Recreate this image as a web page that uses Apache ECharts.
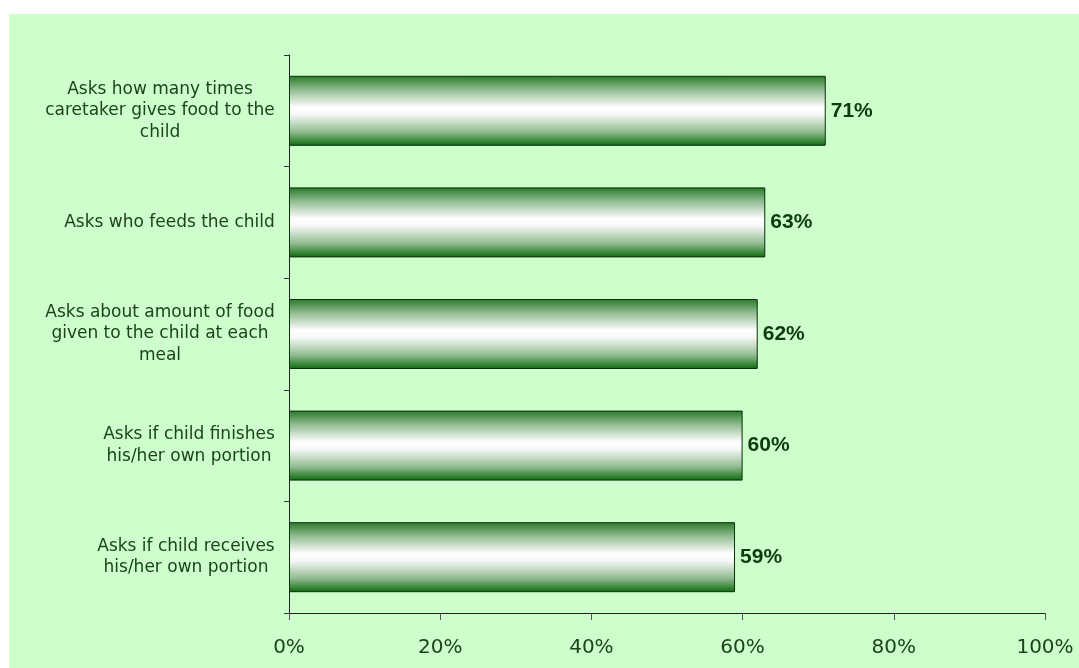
<!DOCTYPE html>
<html>
<head>
<meta charset="utf-8">
<style>
  html, body { margin: 0; padding: 0; background: #ffffff; }
  #chart { width: 1079px; height: 668px; }
</style>
<script src="https://cdn.jsdelivr.net/npm/echarts@6/dist/echarts.min.js"></script>
</head>
<body>
<div id="chart"></div>
<script>
// Questions asked during counselling, top to bottom
const categories = [
  'Asks how many times\ncaretaker gives food to the\nchild',
  'Asks who feeds the child',
  'Asks about amount of food\ngiven to the child at each\nmeal',
  'Asks if child finishes\nhis/her own portion',
  'Asks if child receives\nhis/her own portion'
];
// Share of providers (%)
const values = [71, 63, 62, 60, 59];
const xTicks = [0, 20, 40, 60, 80, 100];

const catSize = 17;
const catFamily = 'DejaVu Sans';
const catColor = '#1e421e';

// Each label block is right-aligned against the axis; lines are centred inside it.
const measure = document.createElement('canvas').getContext('2d');
measure.font = catSize + 'px "' + catFamily + '"';
const rich = {};
categories.forEach((c, i) => {
  const w = Math.max(...c.split('\n').map(l => measure.measureText(l).width));
  rich['c' + i] = {
    width: Math.ceil(w),
    align: 'center',
    fontSize: catSize,
    fontFamily: catFamily,
    color: catColor,
    lineHeight: 21.5
  };
});

const chart = echarts.init(document.getElementById('chart'), null, { renderer: 'canvas' });

chart.setOption({
  backgroundColor: '#ffffff',
  animation: false,
  graphic: [{
    type: 'rect',
    z: -10,
    silent: true,
    shape: { x: 9, y: 14, width: 1070, height: 654 },
    style: { fill: '#ccffcc' }
  }],
  grid: { left: 289, top: 55, right: 34, bottom: 55, containLabel: false },
  xAxis: {
    type: 'value',
    min: 0,
    max: 100,
    interval: 20,
    axisLine: { show: true, lineStyle: { color: '#222222', width: 1 } },
    axisTick: { show: true, length: 7, lineStyle: { color: '#555555' } },
    splitLine: { show: false },
    axisLabel: {
      margin: 25,
      fontSize: 20,
      fontFamily: 'DejaVu Sans',
      color: '#1e421e',
      customValues: xTicks,
      formatter: v => v + '%'
    }
  },
  yAxis: {
    type: 'category',
    inverse: true,
    data: categories,
    axisLine: { show: true, lineStyle: { color: '#222222', width: 1 } },
    axisTick: { show: true, length: 5, lineStyle: { color: '#333333' } },
    axisLabel: {
      margin: 14,
      align: 'right',
      rich: rich,
      formatter: (v, i) => v.split('\n').map(l => '{c' + i + '|' + l + '}').join('\n')
    }
  },
  series: [{
    type: 'bar',
    data: values,
    barWidth: 70,
    itemStyle: {
      borderColor: '#0a300a',
      borderWidth: 1,
      color: new echarts.graphic.LinearGradient(0, 0, 0, 1, [
        { offset: 0, color: '#287828' },
        { offset: 0.2, color: '#92bc92' },
        { offset: 0.45, color: '#ffffff' },
        { offset: 0.55, color: '#f6f8f6' },
        { offset: 0.8, color: '#92bc92' },
        { offset: 1, color: '#0c6a0c' }
      ])
    },
    label: {
      show: true,
      position: 'right',
      distance: 5,
      fontFamily: 'Liberation Sans',
      fontWeight: 'bold',
      fontSize: 21,
      color: '#0d3b0d',
      formatter: p => p.value + '%'
    }
  }]
});
</script>
</body>
</html>
